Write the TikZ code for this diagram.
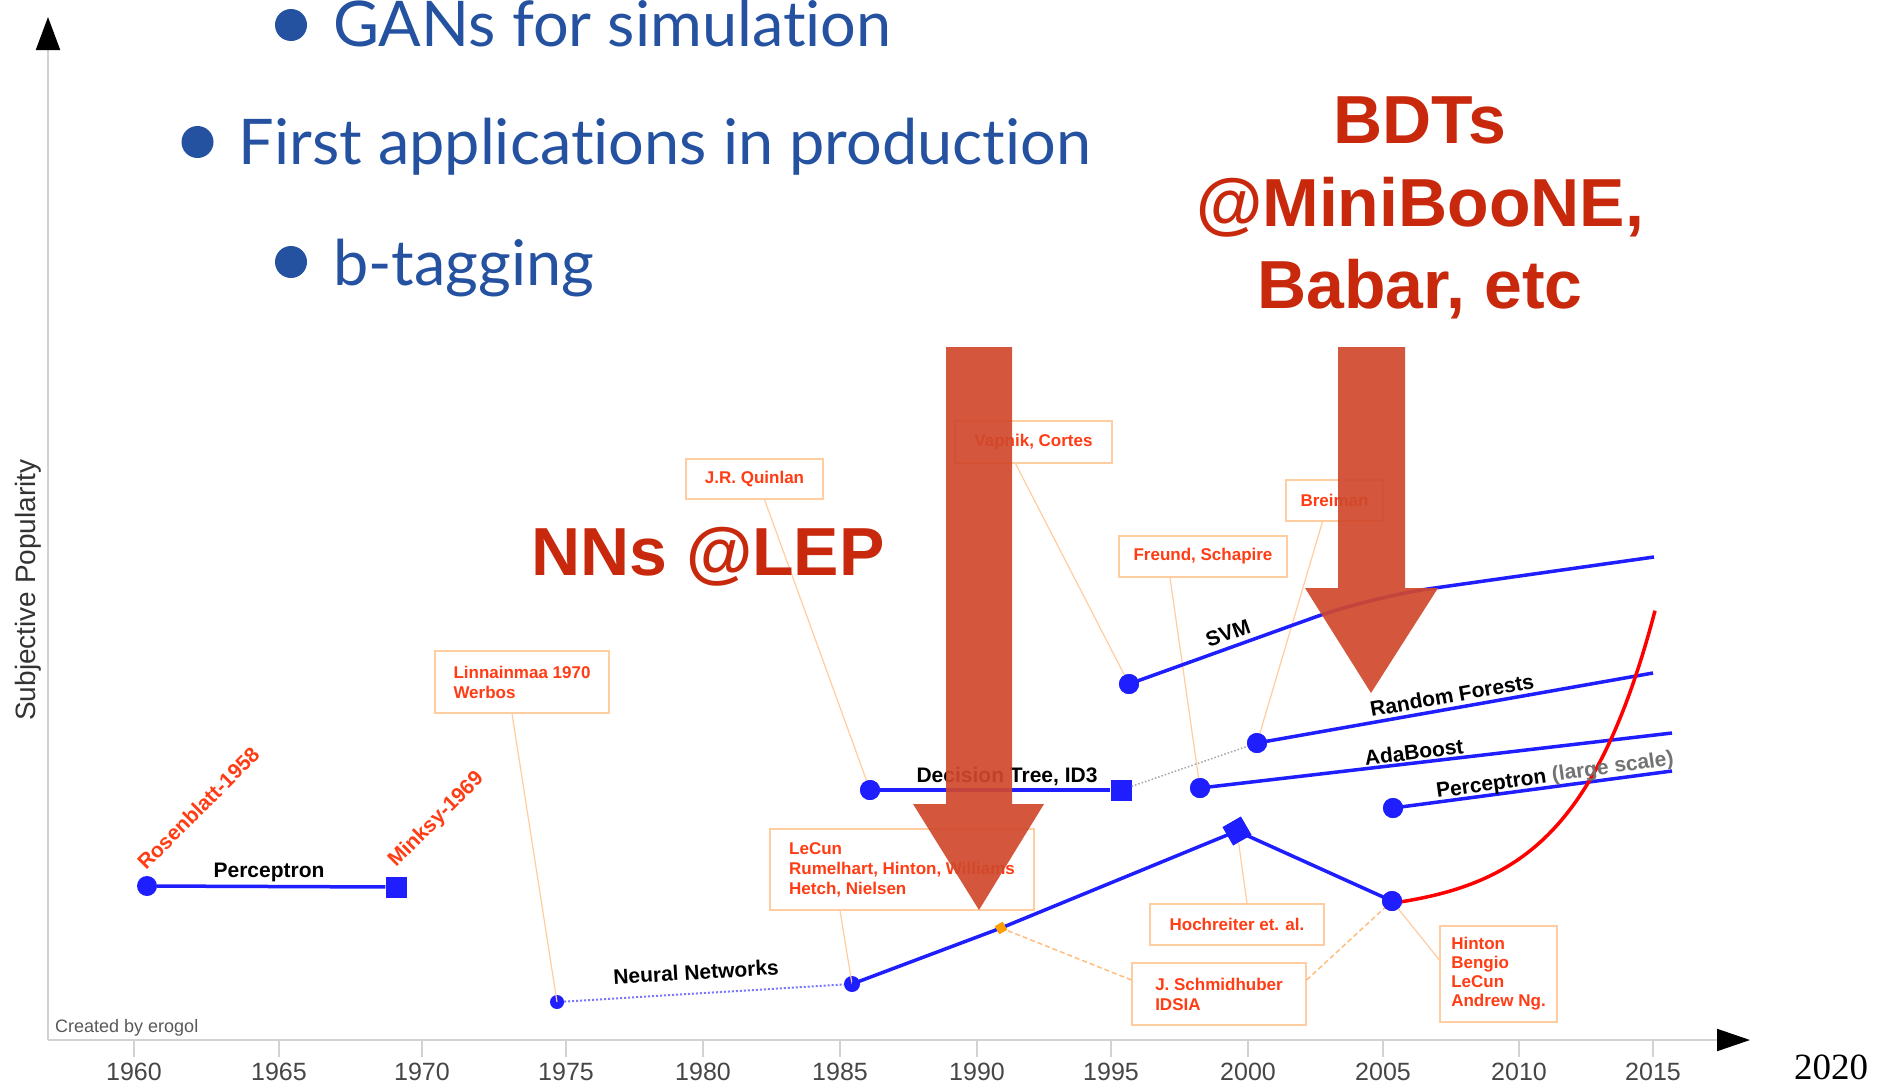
\documentclass[tikz,border=0pt]{standalone}
\usepackage{fontspec}
\setmainfont{Liberation Sans}
\newfontfamily\slidefont[Ligatures=NoCommon]{Lato}
\newfontfamily\numserif{Liberation Serif}
\usetikzlibrary{arrows.meta}

\definecolor{slideblue}{RGB}{36,82,160}
\definecolor{headred}{RGB}{200,40,12}
\definecolor{arrowred}{RGB}{208,72,45}
\definecolor{plotblue}{RGB}{30,30,255}
\definecolor{refred}{RGB}{255,60,20}
\definecolor{refline}{RGB}{255,205,160}
\definecolor{axisgray}{RGB}{210,210,210}
\definecolor{yeargray}{RGB}{70,70,70}
\definecolor{marker}{RGB}{255,160,0}

\tikzset{
  axisline/.style={draw=axisgray, line width=2pt},
  tickline/.style={draw=axisgray, line width=1.5pt},
  yearlbl/.style={font=\fontsize{25}{28}\selectfont, text=yeargray, anchor=base, inner sep=0},
  dotnode/.style={circle, fill=plotblue, inner sep=0, minimum size=20pt},
  smalldot/.style={circle, fill=plotblue, inner sep=0, minimum size=15pt},
  sqnode/.style={rectangle, fill=plotblue, inner sep=0, minimum size=21pt},
  trend/.style={draw=plotblue, line width=3.5pt},
  trendfaint/.style={draw=plotblue!60, line width=2pt, dotted},
  bridge/.style={draw=gray!70, line width=1.5pt, dotted},
  redcurve/.style={draw=red, line width=3.5pt},
  trendlbl/.style={font=\fontsize{21}{24}\selectfont\bfseries, text=black, inner sep=0},
  refbox/.style={draw=refline, line width=1.2pt, text=refred, align=left,
    font=\fontsize{17}{20}\selectfont\bfseries, inner sep=0},
  reflink/.style={draw=refline, line width=1.2pt},
  refdash/.style={draw=refline!80!orange, line width=1.5pt, dash pattern=on 5pt off 3pt},
  rotref/.style={font=\fontsize{21}{24}\selectfont\bfseries, text=refred, inner sep=0, anchor=base west, rotate=45},
  bigarrow/.style={fill=arrowred, fill opacity=0.92},
  bullettext/.style={font=\slidefont\fontsize{63}{70}\selectfont, text=slideblue, inner sep=0, anchor=base west},
  bulletdot/.style={circle, fill=slideblue, inner sep=0, minimum size=32pt},
  headline/.style={font=\fontsize{68}{80}\selectfont\bfseries, text=headred, inner sep=0, anchor=base},
}

\begin{document}
\begin{tikzpicture}[x=1pt, y=-1pt]
\useasboundingbox[fill=white] (0,0) rectangle (1878,1087);

% ---------- axes ----------
\coordinate (origin) at (48,1040);
\coordinate (ytip) at (48,17);
\coordinate (xtip) at (1750,1040);
\draw[axisline, -{Triangle[length=33pt, width=24pt, color=black]}] (origin) -- (ytip);
\draw[axisline, -{Triangle[length=33pt, width=22pt, color=black]}] (origin) -- (xtip);

\foreach \yr/\xx in {1960/134,1965/279,1970/422,1975/566,1980/703,1985/840,
                     1990/977,1995/1111,2000/1248,2005/1383,2010/1519,2015/1653}{
  \coordinate (t\yr) at (\xx,1040);
  \draw[tickline] (t\yr) -- ++(0,17);
  \node[yearlbl] (y\yr) at (\xx,1080) {\yr};
}
\node[font=\numserif\fontsize{37}{40}\selectfont, anchor=base, inner sep=0] (y2020) at (1831,1079) {2020};

\node[font=\fontsize{28}{30}\selectfont, text=black!80, rotate=90, inner sep=0] (ylabel) at (28,590) {Subjective Popularity};
\node[font=\fontsize{18}{20}\selectfont, text=black!65, anchor=base west, inner sep=0] (credit) at (55,1032) {Created by erogol};

% ---------- reference boxes ----------
\node[refbox, minimum width=174pt, minimum height=62pt] (linn) at (522,682) {Linnainmaa 1970\\Werbos};
\node[refbox, minimum width=137pt, minimum height=40pt] (quin) at (754.5,479) {J.R. Quinlan};
\node[refbox, minimum width=157pt, minimum height=42pt] (vapn) at (1033.5,442) {Vapnik, Cortes};
\node[refbox, minimum width=168pt, minimum height=41pt] (freu) at (1203,556.5) {Freund, Schapire};
\node[refbox, minimum width=97pt, minimum height=41pt] (brei) at (1334.5,500.5) {Breiman};
\node[refbox, minimum width=264pt, minimum height=81pt] (lecu) at (902,869.5) {LeCun\\Rumelhart, Hinton, Williams\\Hetch, Nielsen};
\node[refbox, minimum width=174pt, minimum height=41pt] (hoch) at (1237,924.5) {Hochreiter et. al.};
\node[refbox, minimum width=174pt, minimum height=62pt] (schm) at (1219,994) {J. Schmidhuber\\IDSIA};
\node[refbox, minimum width=117pt, minimum height=96pt, font=\fontsize{17}{19}\selectfont\bfseries] (hint) at (1498.5,974) {Hinton\\Bengio\\LeCun\\Andrew Ng.};

% ---------- milestones ----------
\node[dotnode] (p58) at (147,886) {};
\node[sqnode] (p69) at (396,887) {};
\node[smalldot, minimum size=14pt] (nn75) at (557,1002) {};
\node[smalldot, minimum size=16pt] (nn85) at (852,984) {};
\node[rectangle, fill=marker, inner sep=0, minimum size=9pt, rotate=30] (m90) at (1001,928) {};
\node[sqnode, rotate=30] (nn00) at (1237,831) {};
\node[dotnode] (nn05) at (1392,901) {};
\node[dotnode] (dt86) at (870,790) {};
\node[sqnode] (dt95) at (1121,790) {};
\node[dotnode] (svm) at (1129,684) {};
\node[dotnode] (rf) at (1257,743) {};
\node[dotnode] (ada) at (1200,788) {};
\node[dotnode] (pls) at (1393,808) {};

\coordinate (svmk) at (1371,597);
\coordinate (svme) at (1654,557);
\coordinate (rfe) at (1653,673);
\coordinate (adae) at (1672,733);
\coordinate (plse) at (1672,771);

% ---------- leader lines ----------
\draw[reflink] ([xshift=-10pt]linn.south) -- (nn75.center);
\draw[reflink] ([xshift=10pt]quin.south) -- (dt86.center);
\draw[reflink] ([xshift=-18pt]vapn.south) -- (svm.center);
\draw[reflink] ([xshift=-33pt]freu.south) -- (ada.center);
\draw[reflink] ([xshift=-12pt]brei.south) -- (rf.center);
\draw[reflink] ([xshift=-62pt]lecu.south) -- (nn85.center);
\draw[reflink] ([xshift=10pt]hoch.north) -- (nn00.center);
\draw[refdash] ([yshift=14pt]schm.west) -- (m90.center);
\draw[refdash] ([yshift=14pt]schm.east) -- (nn05.center);
\draw[reflink] ([yshift=14pt]hint.west) -- (nn05.center);

% ---------- trends ----------
\draw[trend] (p58) -- (p69);
\draw[trendfaint] (nn75) -- (nn85);
\draw[trend] (nn85.center) -- (m90.center) -- (nn00.center) -- (nn05.center);
\draw[trend] (dt86) -- (dt95);
\draw[bridge] (dt95) -- (rf);
\draw[trend, rounded corners=60pt] (svm.center) -- (svmk) -- (svme);
\draw[trend] (rf.center) -- (rfe);
\draw[trend] (ada.center) -- (adae);
\draw[trend] (pls.center) -- (plse);
% deep learning: exponential rise from 2005
\draw[redcurve] (nn05.center) -- plot[domain=0:262, samples=80, variable=\t]
  ({1393+\t}, {903-11.5*(exp(0.0125*\t)-1)});

% markers drawn again above the lines
\node[dotnode] (nn05top) at (nn05) {};
\node[rectangle, fill=marker, inner sep=0, minimum size=9pt, rotate=30] (m90top) at (m90) {};
\node[sqnode, rotate=30] (nn00top) at (nn00) {};
\node[dotnode] (svmtop) at (svm) {};
\node[dotnode] (rftop) at (rf) {};
\node[dotnode] (adatop) at (ada) {};
\node[dotnode] (plstop) at (pls) {};
\node[dotnode] (dt86top) at (dt86) {};

% ---------- trend labels ----------
\node[trendlbl, anchor=base] (lperc) at (269,877) {Perceptron};
\node[trendlbl, rotate=3.5] (lnn) at (696,972) {Neural Networks};
\node[trendlbl, anchor=base] (ldt) at (1007,782) {Decision Tree, ID3};
\node[trendlbl, rotate=19.5] (lsvm) at (1228,633) {SVM};
\node[trendlbl, rotate=10] (lrf) at (1452,695) {Random Forests};
\node[trendlbl, rotate=7] (lada) at (1414,752) {AdaBoost};
\node[trendlbl, rotate=8] (lpls) at (1555,776) {Perceptron {\color{black!55}(large scale)}};

\node[rotref] (lros) at (146,871) {Rosenblatt-1958};
\node[rotref] (lmin) at (396,868) {Minksy-1969};

% ---------- big arrows ----------
\fill[bigarrow] (946,347) -- (1012,347) -- (1012,804) -- (1044,804) -- (979,910) -- (913,804) -- (946,804) -- cycle;
\fill[bigarrow] (1338,347) -- (1405,347) -- (1405,588) -- (1438,588) -- (1371,693) -- (1305,588) -- (1338,588) -- cycle;

% ---------- headlines ----------
\node[headline, anchor=base west] (nnlep) at (531,575) {NNs @LEP};
\node[headline] (bdt1) at (1420,143) {BDTs};
\node[headline] (bdt2) at (1420,226) {@MiniBooNE,};
\node[headline] (bdt3) at (1420,308) {Babar, etc};

% ---------- bullet list ----------
\node[bulletdot] (b1) at (291,25) {};
\node[bullettext] (t1) at (333,46) {GANs for simulation};
\node[bulletdot] (b2) at (197.5,142) {};
\node[bullettext] (t2) at (238.5,164) {First applications in production};
\node[bulletdot] (b3) at (291,262) {};
\node[bullettext] (t3) at (333,285) {b-tagging};
\end{tikzpicture}
\end{document}
